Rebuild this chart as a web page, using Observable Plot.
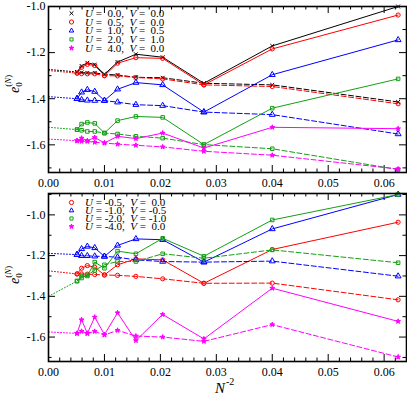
<!DOCTYPE html>
<html><head><meta charset="utf-8">
<script src="https://cdn.jsdelivr.net/npm/d3@7"></script>
<script src="https://cdn.jsdelivr.net/npm/@observablehq/plot@0.6"></script>
<style>
body{margin:0;background:#fff;}
#chart{width:407px;height:395px;}
#chart svg{display:block;}
</style></head><body><div id="chart"></div>
<script>
// ---- data ----
const nSites = [4, 5, 6, 7, 8, 9, 10, 11, 12, 13, 14];
const invN2 = [0.0625, 0.04, 0.02778, 0.02041, 0.015625, 0.012346, 0.01, 0.008264, 0.006944, 0.005917, 0.005102];

// top panel
const topU00V00Solid  = [-1.000, -1.171, -1.333, -1.220, -1.207, -1.241, -1.294, -1.252, -1.244, -1.258, -1.284];
const topU00V00Dashed = [-1.414, -1.340, -1.333, -1.309, -1.307, -1.297, -1.294, -1.288, -1.288, -1.286, -1.284];
const topU00V00Limit  = -1.273;
const topU05V00Solid  = [-1.037, -1.184, -1.340, -1.225, -1.222, -1.246, -1.300, -1.256, -1.251, -1.264, -1.289];
const topU05V00Dashed = [-1.422, -1.347, -1.340, -1.314, -1.308, -1.301, -1.300, -1.292, -1.292, -1.291, -1.289];
const topU05V00Limit  = -1.278;
const topU10V05Solid  = [-1.145, -1.296, -1.458, -1.340, -1.330, -1.359, -1.408, -1.369, -1.361, -1.372, -1.400];
const topU10V05Dashed = [-1.553, -1.469, -1.458, -1.430, -1.426, -1.415, -1.408, -1.408, -1.407, -1.405, -1.400];
const topU10V05Limit  = -1.391;
const topU20V10Solid  = [-1.314, -1.441, -1.599, -1.481, -1.477, -1.495, -1.549, -1.507, -1.503, -1.510, -1.534];
const topU20V10Dashed = [-1.707, -1.617, -1.599, -1.571, -1.563, -1.553, -1.549, -1.542, -1.542, -1.537, -1.534];
const topU20V10Limit  = -1.524;
const topU40V00Solid  = [-1.530, -1.524, -1.614, -1.549, -1.573, -1.563, -1.592, -1.568, -1.582, -1.571, -1.582];
const topU40V00Dashed = [-1.705, -1.645, -1.628, -1.609, -1.602, -1.597, -1.592, -1.589, -1.585, -1.585, -1.582];
const topU40V00Limit  = -1.575;

// bottom panel
const botUm05V00Solid  = [-1.036, -1.170, -1.336, -1.221, -1.216, -1.245, -1.295, -1.257, -1.249, -1.262, -1.290];
const botUm05V00Dashed = [-1.417, -1.335, -1.336, -1.314, -1.302, -1.297, -1.295, -1.293, -1.291, -1.290, -1.290];
const botUm05V00Limit  = -1.275;
const botUm10Vm05Solid  = [-0.900, -1.069, -1.232, -1.122, -1.118, -1.150, -1.204, -1.162, -1.155, -1.167, -1.195];
const botUm10Vm05Dashed = [-1.301, -1.227, -1.232, -1.229, -1.221, -1.208, -1.204, -1.203, -1.201, -1.201, -1.195];
const botUm10Vm05Limit  = -1.189;
const botUm20Vm10Solid  = [-0.900, -1.025, -1.203, -1.115, -1.191, -1.178, -1.262, -1.232, -1.300, -1.300, -1.325];
const botUm20Vm10Dashed = [-1.235, -1.172, -1.213, -1.191, -1.229, -1.229, -1.245, -1.273, -1.295, -1.310, -1.325];
const botUm20Vm10Limit  = -1.400;
const botUm40V00Solid  = [-1.523, -1.360, -1.609, -1.489, -1.617, -1.481, -1.588, -1.502, -1.582, -1.515, -1.582];
const botUm40V00Dashed = [-1.698, -1.539, -1.621, -1.600, -1.595, -1.567, -1.590, -1.572, -1.582, -1.572, -1.582];
const botUm40V00Limit  = -1.575;

// legends & ticks
const topLabels = [["0.0", "0.0"], ["0.5", "0.0"], ["1.0", "0.5"], ["2.0", "1.0"], ["4.0", "0.0"]];
const botLabels = [["-0.5", "0.0"], ["-1.0", "-0.5"], ["-2.0", "-1.0"], ["-4.0", "0.0"]];
const xMajorTicks = [0, 0.01, 0.02, 0.03, 0.04, 0.05, 0.06];
const yMajorTicks = [-1.6, -1.4, -1.2, -1.0];

// ---- styles ----
const FONT = "Liberation Serif, Times New Roman, serif";
const colBlack = "#000000", colRed = "#ff0000", colBlue = "#0000ff", colGreen = "#13a013", colMag = "#ff00ff";
const styles = {
  black: {color: colBlack, symbol: "times", r: 1.9, fill: "none"},
  red: {color: colRed, symbol: "circle", r: 2.1, fill: "none"},
  blue: {color: colBlue, symbol: "triangle", r: 2.2, fill: "none"},
  green: {color: colGreen, symbol: "square", r: 2.0, fill: "none"},
  mag: {color: colMag, symbol: "star", r: 1.5, fill: colMag}
};

const topSeries = [
  {st: styles.black, solid: topU00V00Solid, dashed: topU00V00Dashed, limit: topU00V00Limit},
  {st: styles.red, solid: topU05V00Solid, dashed: topU05V00Dashed, limit: topU05V00Limit},
  {st: styles.blue, solid: topU10V05Solid, dashed: topU10V05Dashed, limit: topU10V05Limit},
  {st: styles.green, solid: topU20V10Solid, dashed: topU20V10Dashed, limit: topU20V10Limit},
  {st: styles.mag, solid: topU40V00Solid, dashed: topU40V00Dashed, limit: topU40V00Limit}
];
const botSeries = [
  {st: styles.red, solid: botUm05V00Solid, dashed: botUm05V00Dashed, limit: botUm05V00Limit},
  {st: styles.blue, solid: botUm10Vm05Solid, dashed: botUm10Vm05Dashed, limit: botUm10Vm05Limit},
  {st: styles.green, solid: botUm20Vm10Solid, dashed: botUm20Vm10Dashed, limit: botUm20Vm10Limit},
  {st: styles.mag, solid: botUm40V00Solid, dashed: botUm40V00Dashed, limit: botUm40V00Limit}
];

function rows(vals) { return vals.map((v, i) => ({x: invN2[i], y: v, n: nSites[i]})); }

function panel({series, yDomain, height, marginTop, marginBottom, yMinor}) {
  const W = 407, mL = 48, mR = 1;
  const H = height - marginTop - marginBottom;
  const PW = W - mL - mR;
  const xMinor = d3.range(1, 33).map(i => i * 0.002).filter(v => Math.abs(v * 100 - Math.round(v * 100)) > 1e-6);
  const marks = [];
  // ticks (inward, all four sides)
  marks.push(Plot.ruleX(xMajorTicks, {x: d => d, insetTop: H - 7, stroke: "black"}));
  marks.push(Plot.ruleX(xMajorTicks, {x: d => d, insetBottom: H - 7, stroke: "black"}));
  marks.push(Plot.ruleX(xMinor, {x: d => d, insetTop: H - 3.5, stroke: "black"}));
  marks.push(Plot.ruleX(xMinor, {x: d => d, insetBottom: H - 3.5, stroke: "black"}));
  marks.push(Plot.ruleY(yMajorTicks, {y: d => d, insetRight: PW - 7, stroke: "black"}));
  marks.push(Plot.ruleY(yMajorTicks, {y: d => d, insetLeft: PW - 7, stroke: "black"}));
  marks.push(Plot.ruleY(yMinor, {y: d => d, insetRight: PW - 3.5, stroke: "black"}));
  marks.push(Plot.ruleY(yMinor, {y: d => d, insetLeft: PW - 3.5, stroke: "black"}));
  for (const s of series) {
    const c = s.st.color;
    const last = invN2.length - 1;
    marks.push(Plot.line([{x: 0, y: s.limit}, {x: invN2[last], y: s.dashed[last]}], {x: "x", y: "y", stroke: c, strokeWidth: 1, strokeDasharray: "1,2"}));
    marks.push(Plot.line(rows(s.dashed), {x: "x", y: "y", stroke: c, strokeWidth: 1, strokeDasharray: "5,2.5"}));
    marks.push(Plot.line(rows(s.solid), {x: "x", y: "y", stroke: c, strokeWidth: 1}));
    const dotOpts = {x: "x", y: "y", symbol: () => s.st.symbol, r: s.st.r, stroke: c, strokeWidth: 1, fill: s.st.fill};
    marks.push(Plot.dot(rows(s.dashed), dotOpts));
    marks.push(Plot.dot(rows(s.solid), dotOpts));
  }
  marks.push(Plot.frame({stroke: "black", strokeWidth: 1.6}));
  marks.push(Plot.axisX({ticks: xMajorTicks, tickSize: 0, tickPadding: 5.5, tickFormat: d3.format(".2f"), label: null, fontSize: 12}));
  marks.push(Plot.axisY({ticks: yMajorTicks, tickSize: 0, tickPadding: 3, tickFormat: d => d.toFixed(1), label: null, fontSize: 12}));
  return Plot.plot({
    width: W, height, marginLeft: mL, marginRight: mR, marginTop, marginBottom,
    x: {domain: [0, 0.064]},
    y: {domain: yDomain},
    symbol: {type: "identity"},
    style: {fontFamily: FONT, fontSize: "12px", background: "white", color: "black", overflow: "visible"},
    marks
  });
}

function symbolFor(name) {
  return {times: d3.symbolTimes || d3.symbolX, circle: d3.symbolCircle, triangle: d3.symbolTriangle2 || d3.symbolTriangle,
          square: d3.symbolSquare2 || d3.symbolSquare, star: d3.symbolStar}[name];
}

function addLegend(svg, series, labels, rowYs) {
  const g = d3.select(svg).append("g").attr("font-family", FONT).attr("font-size", 11).attr("text-anchor", "start");
  series.forEach((s, i) => {
    const y = rowYs[i];
    g.append("path")
      .attr("transform", `translate(71.5,${y})`)
      .attr("d", d3.symbol(symbolFor(s.st.symbol), Math.PI * s.st.r * s.st.r)())
      .attr("fill", s.st.fill).attr("stroke", s.st.color).attr("stroke-width", 1);
    const [u, v] = labels[i];
    const t = g.append("text").attr("x", 85).attr("y", y + 3.6).attr("text-anchor", "start")
      .style("white-space", "pre").attr("fill", "black");
    t.append("tspan").attr("font-style", "italic").text("U");
    t.append("tspan").text(" = " + (u.startsWith("-") ? "" : " ") + u + ",  ");
    t.append("tspan").attr("font-style", "italic").text("V");
    t.append("tspan").text(" = " + (v.startsWith("-") ? "" : " ") + v);
  });
}

function addYTitle(svg, x, y) {
  const t = d3.select(svg).append("text")
    .attr("transform", `translate(${x},${y}) rotate(-90)`)
    .attr("text-anchor", "start")
    .attr("font-family", FONT).attr("fill", "black").attr("font-size", 14);
  t.append("tspan").attr("font-style", "italic").text("e");
  t.append("tspan").attr("font-size", 9).attr("dy", 3.5).text("0");
  const sup = t.append("tspan").attr("font-size", 9).attr("dx", -4.5).attr("dy", -11);
  sup.text("(");
  t.append("tspan").attr("font-size", 9).attr("font-style", "italic").text("N");
  t.append("tspan").attr("font-size", 9).text(")");
}

const topSvg = panel({series: topSeries, yDomain: [-1.72, -1.0], height: 190, marginTop: 6, marginBottom: 18, yMinor: [-1.7, -1.5, -1.3, -1.1]});
addLegend(topSvg, topSeries, topLabels, [13.3, 22.0, 30.7, 39.4, 48.1]);
addYTitle(topSvg, 18.5, 93);

const botSvg = panel({series: botSeries, yDomain: [-1.72, -0.895], height: 205, marginTop: 3, marginBottom: 34, yMinor: [-1.7, -1.5, -1.3, -1.1, -0.9]});
addLegend(botSvg, botSeries, botLabels, [202.5 - 190, 210.5 - 190, 218.5 - 190, 226.5 - 190]);
addYTitle(botSvg, 18.5, 284 - 190);
{
  const t = d3.select(botSvg).append("text").attr("x", 215).attr("y", 203).attr("text-anchor", "start")
    .attr("font-family", FONT).attr("fill", "black").attr("font-size", 15);
  t.append("tspan").attr("font-style", "italic").text("N");
  t.append("tspan").attr("font-size", 10).attr("dy", -8).attr("dx", 1).text("-2");
}

document.getElementById("chart").append(topSvg, botSvg);
</script></body></html>
